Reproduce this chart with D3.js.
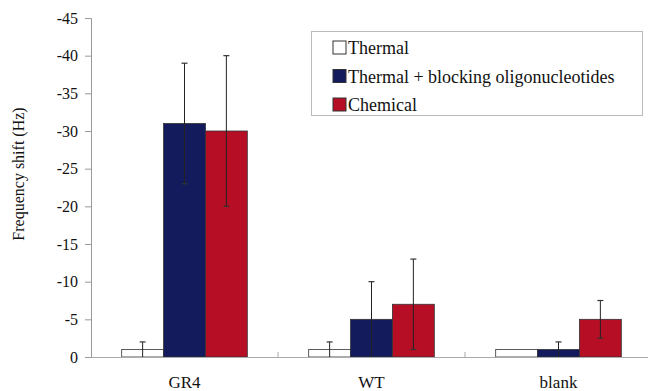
<!DOCTYPE html>
<html>
<head>
<meta charset="utf-8">
<script src="https://cdn.jsdelivr.net/npm/d3@7"></script>
</head>
<body style="margin:0">
<svg id="s" width="648" height="391"></svg>
<script>
const categories = ['GR4', 'WT', 'blank'];
const seriesNames = ['Thermal', 'Thermal + blocking oligonucleotides', 'Chemical'];
const seriesColors = ['#ffffff', '#131b5c', '#b60f25'];

// frequency shift (Hz), negative values
const thermal = [-1, -1, -1];
const thermalBlocking = [-31, -5, -1];
const chemical = [-30, -7, -5];

const thermalErr = [1, 1, 0];
const thermalBlockingErr = [8, 5, 1];
const chemicalErr = [10, 6, 2.5];

const yTicks = [0, -5, -10, -15, -20, -25, -30, -35, -40, -45];

const values = [thermal, thermalBlocking, chemical];
const errors = [thermalErr, thermalBlockingErr, chemicalErr];

const FONT = '"Times New Roman"';
const margin = { left: 91, top: 18, right: 652, bottom: 357 };

const svg = d3.select('#s');

const x = d3.scaleBand()
  .domain(categories)
  .range([margin.left, margin.right])
  .paddingInner(0)
  .paddingOuter(0);

const xInner = d3.scaleBand()
  .domain(d3.range(seriesNames.length))
  .range([0, x.bandwidth()])
  .paddingOuter(0.733);

const y = d3.scaleLinear()
  .domain([0, -45])
  .range([margin.bottom, margin.top]);

// bars
const groups = svg.selectAll('.grp')
  .data(categories)
  .enter()
  .append('g')
  .attr('class', 'grp')
  .attr('transform', d => `translate(${x(d)},0)`);

seriesNames.forEach((name, s) => {
  groups.append('rect')
    .attr('x', xInner(s))
    .attr('width', xInner.bandwidth())
    .attr('y', (d, i) => y(values[s][i]))
    .attr('height', (d, i) => y(0) - y(values[s][i]))
    .attr('fill', seriesColors[s])
    .attr('stroke', '#333')
    .attr('stroke-width', 0.8);
});

// error bars
seriesNames.forEach((name, s) => {
  const cx = xInner(s) + xInner.bandwidth() / 2;
  groups.each(function (d, i) {
    if (!(errors[s][i] > 0)) return;
    const hi = values[s][i] - errors[s][i];
    const lo = Math.min(0, values[s][i] + errors[s][i]);
    const g = d3.select(this);
    g.append('line')
      .attr('x1', cx).attr('x2', cx)
      .attr('y1', y(lo)).attr('y2', y(hi))
      .attr('stroke', '#222')
      .attr('stroke-width', 1);
    [hi, lo].forEach(v => {
      if (v >= 0) return;
      g.append('line')
        .attr('x1', cx - 3).attr('x2', cx + 3)
        .attr('y1', y(v)).attr('y2', y(v))
        .attr('stroke', '#333')
        .attr('stroke-width', 1.2);
    });
  });
});

// y axis
const yAxis = svg.append('g')
  .attr('transform', `translate(${margin.left},0)`)
  .call(d3.axisLeft(y).tickValues(yTicks).tickSize(6).tickPadding(7).tickFormat(d => String(d)));
yAxis.selectAll('path, line').attr('stroke', '#999');
yAxis.selectAll('text')
  .style('font-family', FONT)
  .style('font-size', '16px')
  .attr('fill', '#111');

svg.append('text')
  .attr('transform', 'translate(24,174) rotate(-90)')
  .attr('text-anchor', 'middle')
  .style('font-family', FONT)
  .style('font-size', '16px')
  .attr('fill', '#111')
  .text('Frequency shift (Hz)');

// x axis
const xAxis = svg.append('g')
  .attr('transform', `translate(0,${margin.bottom})`)
  .call(d3.axisBottom(x).tickSize(0).tickPadding(19));
xAxis.select('.domain').attr('stroke', '#aaa');
xAxis.selectAll('text')
  .style('font-family', FONT)
  .style('font-size', '17px')
  .attr('fill', '#111');
svg.append('g')
  .selectAll('line')
  .data(categories.slice(1))
  .enter()
  .append('line')
  .attr('x1', d => x(d)).attr('x2', d => x(d))
  .attr('y1', margin.bottom).attr('y2', margin.bottom - 5)
  .attr('stroke', '#aaa');

// legend
const legend = svg.append('g');
legend.append('rect')
  .attr('x', 311.5).attr('y', 31.5)
  .attr('width', 331).attr('height', 84)
  .attr('fill', '#fff')
  .attr('stroke', '#bbb');

const rows = legend.selectAll('.row')
  .data(seriesNames)
  .enter()
  .append('g')
  .attr('transform', (d, i) => `translate(333,${47.5 + i * 28.5})`);
rows.append('rect')
  .attr('x', 0).attr('y', -6.5)
  .attr('width', 13).attr('height', 13)
  .attr('fill', (d, i) => seriesColors[i])
  .attr('stroke', '#333');
rows.append('text')
  .attr('x', 15).attr('y', 6.5)
  .style('font-family', FONT)
  .style('font-size', '18px')
  .attr('fill', '#111')
  .text(d => d);
</script>
</body>
</html>
